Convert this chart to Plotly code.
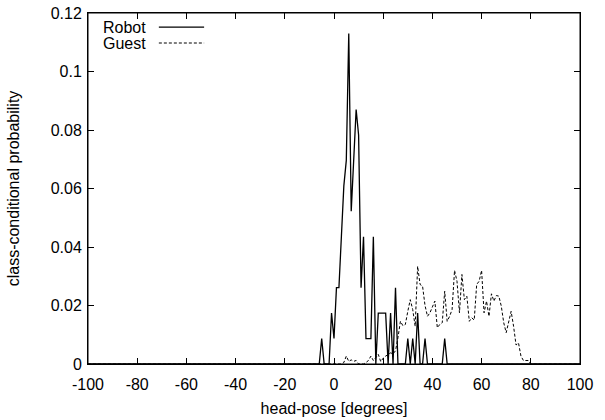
import plotly.graph_objects as go

# x grid: head-pose bins in degrees
degrees = list(range(-100, 101))

robot = [
    0, 0, 0, 0, 0, 0, 0, 0, 0, 0,   # -100..-91
    0, 0, 0, 0, 0, 0, 0, 0, 0, 0,   # -90..-81
    0, 0, 0, 0, 0, 0, 0, 0, 0, 0,   # -80..-71
    0, 0, 0, 0, 0, 0, 0, 0, 0, 0,   # -70..-61
    0, 0, 0, 0, 0, 0, 0, 0, 0, 0,   # -60..-51
    0, 0, 0, 0, 0, 0, 0, 0, 0, 0,   # -50..-41
    0, 0, 0, 0, 0, 0, 0, 0, 0, 0,   # -40..-31
    0, 0, 0, 0, 0, 0, 0, 0, 0, 0,   # -30..-21
    0, 0, 0, 0, 0, 0, 0, 0, 0, 0,   # -20..-11
    0, 0, 0, 0, 0, 0.0087, 0, 0, 0, 0.0174,   # -10..-1
    0.0087, 0.0261, 0.0261, 0.0435, 0.0609, 0.0696, 0.1130, 0.0522, 0.0696, 0.0870,  # 0..9
    0.0783, 0.0261, 0.0435, 0.0087, 0.0087, 0.0087, 0.0435, 0, 0.0174, 0.0174,       # 10..19
    0.0174, 0.0174, 0, 0.0174, 0, 0.0261, 0, 0, 0, 0,                                # 20..29
    0.0087, 0, 0.0087, 0, 0.0174, 0, 0, 0.0087, 0, 0,                                # 30..39
    0, 0, 0, 0, 0, 0.0087, 0, 0, 0, 0,                                               # 40..49
    0, 0, 0, 0, 0, 0, 0, 0, 0, 0,   # 50..59
    0, 0, 0, 0, 0, 0, 0, 0, 0, 0,   # 60..69
    0, 0, 0, 0, 0, 0, 0, 0, 0, 0,   # 70..79
    0, 0, 0, 0, 0, 0, 0, 0, 0, 0,   # 80..89
    0, 0, 0, 0, 0, 0, 0, 0, 0, 0,   # 90..99
    0,                              # 100
]

guest = [
    0, 0, 0, 0, 0, 0, 0, 0, 0, 0,   # -100..-91
    0, 0, 0, 0, 0, 0, 0, 0, 0, 0,   # -90..-81
    0, 0, 0, 0, 0, 0, 0, 0, 0, 0,   # -80..-71
    0, 0, 0, 0, 0, 0, 0, 0, 0, 0,   # -70..-61
    0, 0, 0, 0, 0, 0, 0, 0, 0, 0,   # -60..-51
    0, 0, 0, 0, 0, 0, 0, 0, 0, 0,   # -50..-41
    0, 0, 0, 0, 0, 0, 0, 0, 0, 0,   # -40..-31
    0, 0, 0, 0, 0, 0, 0, 0, 0, 0,   # -30..-21
    0, 0, 0, 0, 0, 0, 0, 0, 0, 0,   # -20..-11
    0, 0, 0, 0, 0, 0, 0, 0, 0, 0,   # -10..-1
    0, 0, 0, 0, 0.0005, 0.0027, 0.0009, 0.0014, 0.0009, 0.0012,                      # 0..9
    0, 0, 0, 0.0005, 0.0012, 0.0027, 0.0012, 0.0022, 0.0033, 0.0008,                 # 10..19
    0.0020, 0.0027, 0.0033, 0.0038, 0.0035, 0.0045, 0.0090, 0.0146, 0.0131, 0.0135,  # 20..29
    0.0180, 0.0220, 0.0186, 0.0129, 0.0334, 0.0272, 0.0266, 0.0200, 0.0163, 0.0175,  # 30..39
    0.0195, 0.0215, 0.0124, 0.0135, 0.0141, 0.0249, 0.0146, 0.0163, 0.0186, 0.0320,  # 40..49
    0.0283, 0.0175, 0.0306, 0.0220, 0.0232, 0.0146, 0.0158, 0.0150, 0.0272, 0.0283,  # 50..59
    0.0320, 0.0175, 0.0215, 0.0163, 0.0240, 0.0215, 0.0234, 0.0232, 0.0198, 0.0141,  # 60..69
    0.0107, 0.0145, 0.0180, 0.0129, 0.0065, 0.0072, 0.0027, 0.0012, 0.0012, 0.0012,  # 70..79
    0, 0, 0, 0, 0, 0, 0, 0, 0, 0,   # 80..89
    0, 0, 0, 0, 0, 0, 0, 0, 0, 0,   # 90..99
    0,                              # 100
]

x_ticks = [-100, -80, -60, -40, -20, 0, 20, 40, 60, 80, 100]
x_tick_labels = ["-100", "-80", "-60", "-40", "-20", "0", "20", "40", "60", "80", "100"]
y_ticks = [0, 0.02, 0.04, 0.06, 0.08, 0.1, 0.12]
y_tick_labels = ["0", "0.02", "0.04", "0.06", "0.08", "0.1", "0.12"]

series_names = ["Robot", "Guest"]

FONT = "Liberation Sans, Arial, Helvetica, sans-serif"

fig = go.Figure()
fig.add_trace(go.Scatter(x=degrees, y=robot, mode="lines", name=series_names[0],
                         line=dict(color="black", width=1.3), showlegend=False))
fig.add_trace(go.Scatter(x=degrees, y=guest, mode="lines", name=series_names[1],
                         line=dict(color="black", width=1, dash="3px,2px"), showlegend=False))

axis_common = dict(showline=True, linecolor="black", linewidth=1, mirror="ticks",
                   ticks="inside", ticklen=6, tickcolor="black", tickwidth=1,
                   showgrid=False, zeroline=False, automargin=False,
                   ticklabeloverflow="allow",
                   tickfont=dict(family=FONT, size=16, color="black"))

fig.update_xaxes(range=[-100, 100], tickvals=x_ticks, ticktext=x_tick_labels,
                 ticklabelstandoff=6,
                 title=dict(text="head-pose [degrees]", font=dict(family=FONT, size=16, color="black"),
                            standoff=10),
                 **axis_common)
fig.update_yaxes(range=[0, 0.12], tickvals=y_ticks, ticktext=y_tick_labels,
                 ticklabelstandoff=2,
                 title=dict(text="class-conditional probability", font=dict(family=FONT, size=16, color="black"),
                            standoff=27),
                 **axis_common)

# frame around the plotting area (gnuplot border)
fig.add_shape(type="rect", xref="paper", yref="paper", x0=0, x1=1, y0=0, y1=1,
              line=dict(color="black", width=1), layer="above")

# gnuplot-style key: text then line sample
legend_y = [0.960, 0.9145]
dashes = ["solid", "3px,2px"]
widths = [1.3, 1]
for name, yy, dsh, w in zip(series_names, legend_y, dashes, widths):
    fig.add_annotation(x=0.122, y=yy, xref="paper", yref="paper", text=name, showarrow=False,
                       xanchor="right", yanchor="middle", font=dict(family=FONT, size=16, color="black"))
    fig.add_shape(type="line", xref="paper", yref="paper", x0=0.144, x1=0.236, y0=yy, y1=yy,
                  line=dict(color="black", width=w, dash=dsh))

fig.update_layout(width=605, height=420, margin=dict(l=88, r=25, t=13, b=56),
                  paper_bgcolor="white", plot_bgcolor="white",
                  font=dict(family=FONT, size=16, color="black"))

fig.write_html("out.html", config={"displayModeBar": False},
               post_script="document.body.style.margin='0px';document.body.style.overflow='hidden';")
